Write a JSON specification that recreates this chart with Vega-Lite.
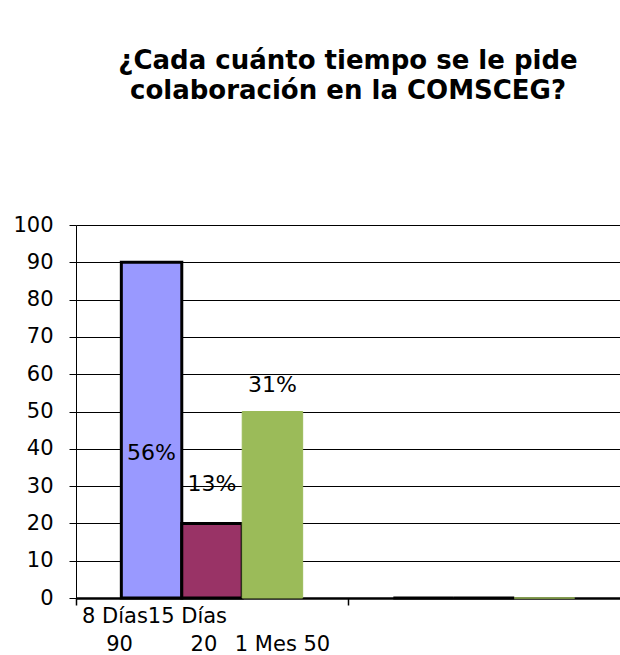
{
  "$schema": "https://vega.github.io/schema/vega-lite/v6.json",
  "width": 544,
  "height": 373,
  "autosize": {"type": "none"},
  "padding": {"left": 76, "top": 225, "right": 0, "bottom": 57},
  "background": "white",
  "config": {
    "view": {"stroke": null},
    "axisY": {
      "title": null,
      "grid": true,
      "gridColor": "black",
      "gridOpacity": 1,
      "gridWidth": 1,
      "domainColor": "black",
      "domainWidth": 1,
      "tickColor": "black",
      "tickSize": 7,
      "tickWidth": 1,
      "labelFont": "DejaVu Sans",
      "labelFontSize": 21,
      "labelColor": "black",
      "labelPadding": 16,
      "labelOverlap": false,
      "labelFlush": false
    }
  },
  "title": {
    "text": ["¿Cada cuánto tiempo se le pide", "colaboración en la COMSCEG?"],
    "anchor": "middle",
    "font": "DejaVu Sans",
    "fontSize": 26,
    "fontWeight": "bold",
    "color": "black",
    "lineHeight": 30,
    "offset": 110
  },
  "data": {
    "values": [
      {"grupo": "1", "serie": "8 Días", "valor": 90, "etiqueta": "56%", "posEtiqueta": 39},
      {"grupo": "1", "serie": "15 Días", "valor": 20, "etiqueta": "13%", "posEtiqueta": 30.5},
      {"grupo": "1", "serie": "1 Mes", "valor": 50, "etiqueta": "31%", "posEtiqueta": 57},
      {"grupo": "2", "serie": "8 Días", "valor": 0},
      {"grupo": "2", "serie": "15 Días", "valor": 0},
      {"grupo": "2", "serie": "1 Mes", "valor": 0}
    ]
  },
  "encoding": {
    "x": {
      "field": "grupo",
      "type": "nominal",
      "scale": {"paddingInner": 0, "paddingOuter": 0},
      "axis": {
        "title": null,
        "bandPosition": 0,
        "ticks": true,
        "tickSize": 7,
        "tickColor": "black",
        "tickWidth": 1.5,
        "domainColor": "black",
        "domainWidth": 2.5,
        "grid": false,
        "labelExpr": "datum.value == '1' ? ['8 Días15 Días', '\u200b\u00a0\u00a0\u00a0\u200990\u00a0\u00a0\u00a0\u00a0\u00a0\u00a0\u00a0\u00a0\u200920\u00a0\u00a0\u20091 Mes 50'] : ''",
        "labelAlign": "left",
        "labelOffset": -130,
        "labelAngle": 0,
        "labelFont": "DejaVu Sans",
        "labelFontSize": 21,
        "labelColor": "black",
        "labelLineHeight": 28,
        "labelPadding": 0,
        "labelLimit": 500,
        "labelOverlap": false
      }
    },
    "xOffset": {
      "field": "serie",
      "type": "nominal",
      "sort": ["8 Días", "15 Días", "1 Mes"],
      "scale": {"paddingInner": 0, "paddingOuter": 0.75}
    }
  },
  "layer": [
    {
      "mark": {"type": "bar"},
      "encoding": {
        "y": {
          "field": "valor",
          "type": "quantitative",
          "stack": null,
          "scale": {"domain": [0, 100], "nice": false},
          "axis": {"values": [0, 10, 20, 30, 40, 50, 60, 70, 80, 90, 100]}
        },
        "color": {
          "field": "serie",
          "type": "nominal",
          "scale": {"domain": ["8 Días", "15 Días", "1 Mes"], "range": ["#9999FF", "#993366", "#9BBB59"]},
          "legend": null
        },
        "stroke": {
          "field": "serie",
          "type": "nominal",
          "scale": {"domain": ["8 Días", "15 Días", "1 Mes"], "range": ["black", "black", "#9BBB59"]},
          "legend": null
        },
        "strokeWidth": {"condition": {"test": "datum.serie == '1 Mes'", "value": 1}, "value": 3},
        "fillOpacity": {"value": 1}
      }
    },
    {
      "transform": [{"filter": "isValid(datum.etiqueta)"}],
      "mark": {"type": "text", "font": "DejaVu Sans", "fontSize": 22, "color": "black", "baseline": "middle", "align": "center"},
      "encoding": {
        "y": {
          "field": "posEtiqueta",
          "type": "quantitative",
          "axis": {"values": [0, 10, 20, 30, 40, 50, 60, 70, 80, 90, 100]}
        },
        "text": {"field": "etiqueta", "type": "nominal"}
      }
    }
  ]
}
